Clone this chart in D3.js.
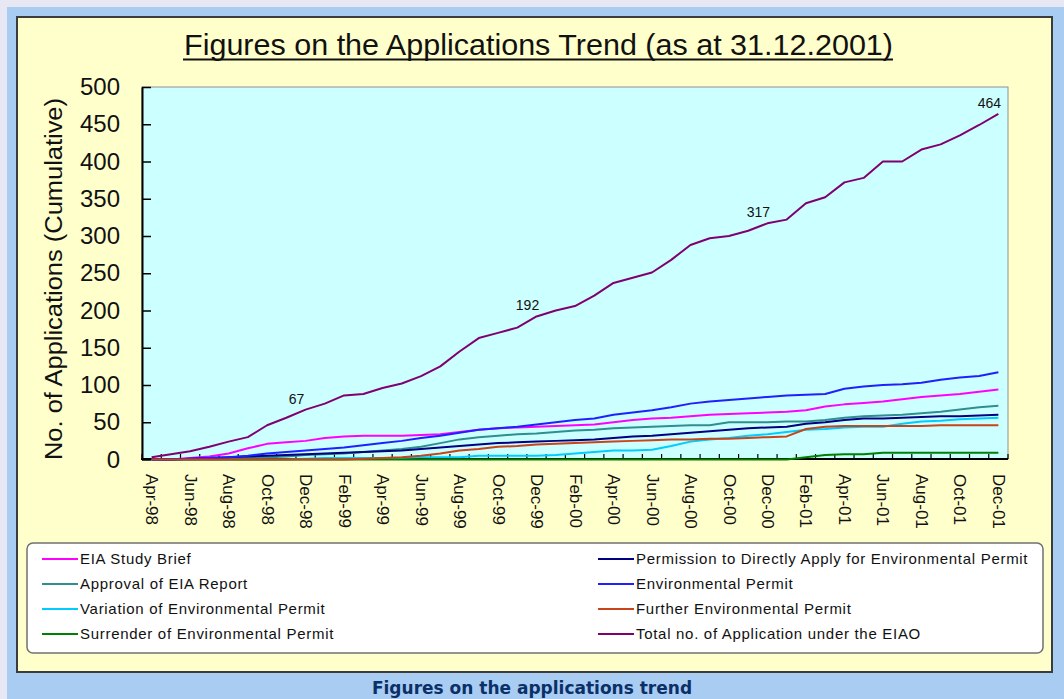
<!DOCTYPE html>
<html>
<head>
<meta charset="utf-8">
<script src="https://cdn.jsdelivr.net/npm/d3@7"></script>
<style>
  html, body { margin: 0; padding: 0; background: #e8e8f4; }
  svg { display: block; }
</style>
</head>
<body>
<div id="chart"></div>
<script>
// months on the category axis (Apr-98 .. Dec-01)
var months = ["Apr-98","May-98","Jun-98","Jul-98","Aug-98","Sep-98","Oct-98","Nov-98","Dec-98",
  "Jan-99","Feb-99","Mar-99","Apr-99","May-99","Jun-99","Jul-99","Aug-99","Sep-99","Oct-99","Nov-99","Dec-99",
  "Jan-00","Feb-00","Mar-00","Apr-00","May-00","Jun-00","Jul-00","Aug-00","Sep-00","Oct-00","Nov-00","Dec-00",
  "Jan-01","Feb-01","Mar-01","Apr-01","May-01","Jun-01","Jul-01","Aug-01","Sep-01","Oct-01","Nov-01","Dec-01"];

var yTicks = [0, 50, 100, 150, 200, 250, 300, 350, 400, 450, 500];

// cumulative counts
var eiaStudyBrief = [0,0,2,4,8,15,21,23,25,29,31,32,32,32,33,34,37,40,42,43,44,45,46,47,50,53,55,56,58,60,61,62,63,64,66,71,74,76,78,81,84,86,88,91,94];
var approvalEIA = [0,0,0,1,1,2,3,4,6,7,8,10,12,14,17,22,27,30,32,34,35,37,39,40,42,43,44,45,46,46,50,50,50,51,51,53,56,58,59,60,62,64,67,70,72];
var variationEP = [0,0,0,0,0,0,0,0,1,2,2,2,2,2,3,3,3,5,5,5,5,6,8,10,12,12,13,18,24,27,29,32,34,37,40,41,43,44,44,48,51,52,54,55,56];
var surrenderEP = [0,0,0,0,0,0,0,0,0,0,0,0,0,0,0,0,0,0,0,0,0,0,0,0,0,0,0,0,0,0,0,0,0,0,3,6,7,7,9,9,9,9,9,9,9];
var permissionDirect = [0,0,1,2,3,4,5,6,7,8,9,10,11,12,14,16,18,20,22,23,24,25,26,27,29,31,32,34,36,38,40,42,43,44,48,50,53,55,55,56,57,58,58,59,60];
var environmentalPermit = [0,0,1,2,3,5,8,10,12,14,16,19,22,25,29,32,36,40,42,44,47,50,53,55,60,63,66,70,75,78,80,82,84,86,87,88,95,98,100,101,103,107,110,112,117];
var furtherEP = [0,0,0,0,0,0,0,0,0,0,0,1,2,3,5,8,12,14,17,18,20,21,22,23,24,25,26,27,27,28,28,29,30,31,41,44,45,45,45,45,45,46,46,46,46];
var totalApps = [3,7,11,17,24,30,46,56,67,75,86,88,96,102,112,125,145,163,170,177,192,200,206,220,237,244,251,268,288,297,300,307,317,322,344,352,372,378,400,400,416,423,435,449,464];

// months whose total value is written on the chart
var labelledMonths = ["Dec-98", "Dec-99", "Dec-00", "Dec-01"];

var seriesNames = ["EIA Study Brief", "Approval of EIA Report", "Variation of Environmental Permit",
  "Surrender of Environmental Permit", "Permission to Directly Apply for Environmental Permit",
  "Environmental Permit", "Further Environmental Permit", "Total no. of Application under the EIAO"];
var seriesValues = [eiaStudyBrief, approvalEIA, variationEP, surrenderEP, permissionDirect,
  environmentalPermit, furtherEP, totalApps];
var seriesColors = ["#ff00ff", "#2f8f8f", "#00ccff", "#008000", "#000080", "#2020ff", "#c8441a", "#800070"];

window.onload = () => {
  var W = 1064, H = 699;
  var margin = {top: 87, right: 56, bottom: 240, left: 142};

  var svg = d3.select("#chart").append("svg")
    .attr("width", W).attr("height", H);

  // page frame
  svg.append("rect").attr("x", 7).attr("y", 7).attr("width", W - 7).attr("height", H - 7)
    .attr("fill", "#a9cdf2");
  svg.append("rect").attr("x", 17).attr("y", 17).attr("width", 1035).attr("height", 655)
    .attr("fill", "#ffffcc").attr("stroke", "#3c3c3c").attr("stroke-width", 2);

  // caption under the chart
  svg.append("text")
    .attr("x", 532).attr("y", 694)
    .attr("text-anchor", "middle")
    .style("font-family", "DejaVu Sans, Verdana, sans-serif")
    .style("font-weight", "bold").style("font-size", "17px")
    .style("fill", "#0b3068")
    .text("Figures on the applications trend");

  // title
  svg.append("text")
    .attr("x", 538.5).attr("y", 55)
    .attr("text-anchor", "middle")
    .attr("textLength", 709).attr("lengthAdjust", "spacingAndGlyphs")
    .style("font-family", "Liberation Sans, Arial, sans-serif")
    .style("font-size", "29px").style("fill", "#111")
    .text("Figures on the Applications Trend (as at 31.12.2001)");
  svg.append("line").attr("x1", 183).attr("x2", 893).attr("y1", 59.5).attr("y2", 59.5)
    .attr("stroke", "#111").attr("stroke-width", 2);

  var x0 = margin.left, x1 = W - margin.right;
  var y0 = H - margin.bottom, y1 = margin.top;

  var x = d3.scalePoint().domain(months).range([x0, x1]).padding(0.5);
  var y = d3.scaleLinear().domain([0, 500]).range([y0 + 0.5, y1]);
  var step = x.step();

  // plot area
  svg.append("rect").attr("x", x0).attr("y", y1).attr("width", x1 - x0).attr("height", y0 - y1)
    .attr("fill", "#ccffff").attr("stroke", "#909090").attr("stroke-width", 1);

  // y axis
  var yAxis = svg.append("g")
    .attr("transform", `translate(${x0},0)`)
    .call(d3.axisLeft(y).tickValues(yTicks).tickSizeInner(-9).tickSizeOuter(0).tickPadding(22));
  yAxis.select(".domain").attr("stroke", "#000").attr("stroke-width", 2);
  yAxis.selectAll(".tick line").attr("stroke", "#000").attr("stroke-width", 1.5);
  yAxis.selectAll(".tick text")
    .style("font-family", "Liberation Sans, Arial, sans-serif")
    .style("font-size", "24px").style("fill", "#111");

  svg.append("text")
    .attr("transform", "translate(62,279) rotate(-90)")
    .attr("text-anchor", "middle")
    .attr("textLength", 362).attr("lengthAdjust", "spacingAndGlyphs")
    .style("font-family", "Liberation Sans, Arial, sans-serif")
    .style("font-size", "23px").style("fill", "#111")
    .text("No. of Applications (Cumulative)");

  // x axis: labels every second month, tick marks between categories
  var xAxis = svg.append("g")
    .attr("transform", `translate(0,${y0})`)
    .call(d3.axisBottom(x).tickValues(months.filter((m, i) => i % 2 == 0)).tickSize(0).tickPadding(0));
  xAxis.select(".domain").remove();
  xAxis.selectAll(".tick text")
    .attr("transform", "rotate(90)")
    .attr("x", 15).attr("y", 0).attr("dy", "0.35em")
    .attr("text-anchor", "start")
    .style("font-family", "Liberation Sans, Arial, sans-serif")
    .style("font-size", "17px").style("fill", "#111");

  svg.append("g").selectAll("line")
    .data(months.concat(["end"]))
    .join("line")
      .attr("x1", (d, i) => x0 + i * step).attr("x2", (d, i) => x0 + i * step)
      .attr("y1", y0).attr("y2", y0 - 5)
      .attr("stroke", "#000").attr("stroke-width", 1.2);
  svg.append("line").attr("x1", x0 - 1).attr("x2", x1).attr("y1", y0).attr("y2", y0)
    .attr("stroke", "#000").attr("stroke-width", 2);

  // series lines
  var line = d3.line()
    .x((d, i) => x(months[i]))
    .y(d => y(d));

  svg.append("g").selectAll("path")
    .data(seriesValues)
    .join("path")
      .attr("d", d => line(d))
      .attr("fill", "none")
      .attr("stroke", (d, i) => seriesColors[i])
      .attr("stroke-width", 2)
      .attr("stroke-linejoin", "round");

  // value labels on the total line
  svg.append("g").selectAll("text")
    .data(labelledMonths)
    .join("text")
      .attr("x", m => x(m) - 9)
      .attr("y", m => y(totalApps[months.indexOf(m)]) - 6)
      .attr("text-anchor", "middle")
      .style("font-family", "Liberation Sans, Arial, sans-serif")
      .style("font-size", "14px").style("fill", "#111")
      .text(m => totalApps[months.indexOf(m)]);

  // legend
  var lg = svg.append("g");
  lg.append("rect").attr("x", 27).attr("y", 543).attr("width", 1016).attr("height", 110)
    .attr("rx", 6).attr("fill", "#fff").attr("stroke", "#707070").attr("stroke-width", 1.5);

  var items = lg.selectAll("g.item")
    .data(seriesNames)
    .join("g")
      .attr("class", "item")
      .attr("transform", (d, i) => `translate(${i < 4 ? 42 : 598},${559 + (i % 4) * 25})`);
  items.append("line").attr("x1", 0).attr("x2", 36).attr("y1", 0).attr("y2", 0)
    .attr("stroke", (d, i) => seriesColors[i]).attr("stroke-width", 2);
  items.append("text").attr("x", 38).attr("y", 0).attr("dy", "0.35em")
    .style("font-family", "Liberation Sans, Arial, sans-serif")
    .style("font-size", "15px").style("letter-spacing", "0.7px").style("fill", "#111")
    .text(d => d);
};
</script>
</body>
</html>
